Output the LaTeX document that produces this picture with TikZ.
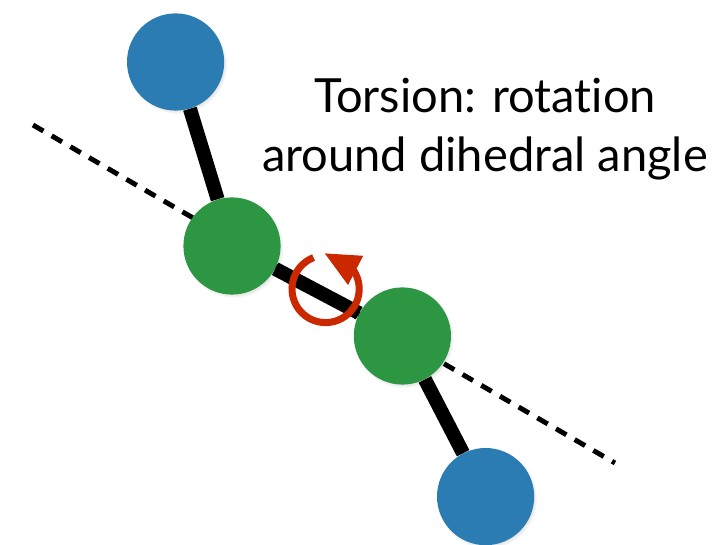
\documentclass[tikz,border=0pt]{standalone}
\usepackage{fontspec}
\setmainfont{Lato}[Ligatures={NoCommon}]
\usetikzlibrary{shadows}
\definecolor{atomblue}{RGB}{44,124,180}
\definecolor{atomgreen}{RGB}{44,150,66}
\definecolor{torsred}{RGB}{204,40,0}

\begin{document}
\begin{tikzpicture}[
			every node/.style = {font=\fontsize{33.5}{40}\selectfont},
			atom/.style       = {circle, minimum size=24.3mm, inner sep=0pt,
			                     circular drop shadow={shadow xshift=.04cm, shadow yshift=-.05cm,
			                     shadow scale=1.03, opacity=.35}},
			bond/.style       = {line width=10pt},
			axisline/.style   = {line width=3.5pt, dash pattern=on 3mm off 2.4mm},
			twist/.style      = {torsred, line width=5pt}
			]
			\useasboundingbox (0,0) rectangle (18,13.625);

			%--- dihedral axis ---
			\coordinate (axisL) at (0.825,10.5);
			\coordinate (axisR) at (15.375,2.05);
			\draw[axisline] (axisL) -- (axisR);

			%--- atoms ---
			\node[atom, fill=atomblue]  (blueA)  at (4.39,12.075) {};
			\node[atom, fill=atomgreen] (greenA) at (5.8,7.475)   {};
			\node[atom, fill=atomgreen] (greenB) at (10.06,5.225) {};
			\node[atom, fill=atomblue]  (blueB)  at (12.14,1.21)  {};

			%--- bonds ---
			\draw[bond] (blueA) -- (greenA);
			\draw[bond] (greenA) -- (greenB);
			\draw[bond] (greenB) -- (blueB);

			%--- rotation ---
			\coordinate (rot) at (8.14,6.4);
			\draw[twist] ([shift={(111:0.84)}]rot) arc (111:395:0.84);
			\fill[torsred] ([shift={(-0.02,0.89)}]rot) -- ([shift={(0.94,0.83)}]rot)
			    -- ([shift={(0.56,0.1)}]rot) -- cycle;

			%--- label ---
			\node[anchor=base] (torsion) at (12.125,10.8)  {Torsion: rotation};
			\node[anchor=base] (around)  at (12.125,9.325) {around dihedral angle};
		\end{tikzpicture}
\end{document}
